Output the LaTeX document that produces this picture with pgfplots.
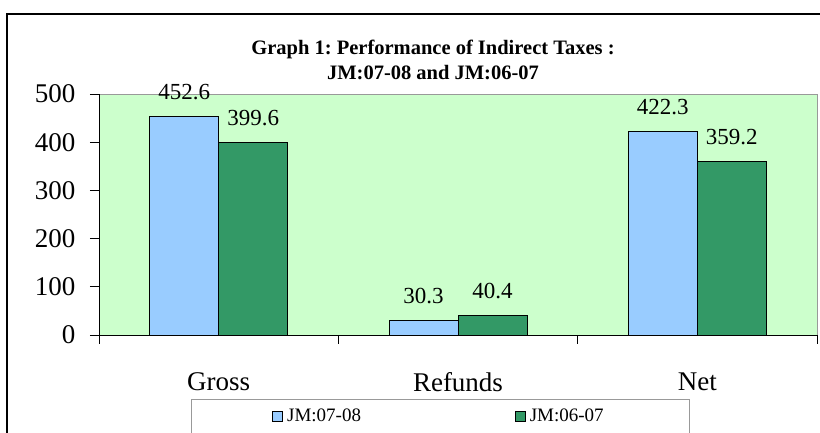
\documentclass[border=0pt]{standalone}
\usepackage{pgfplots}
\pgfplotsset{compat=1.18}
\usepackage{fontspec}
\setmainfont{Liberation Serif}
\definecolor{bblue}{HTML}{99CCFF}
\definecolor{bgreen}{HTML}{339966}
\definecolor{bgplot}{HTML}{CCFFCC}
\begin{document}
\frenchspacing
\begin{tikzpicture}[x=1pt,y=1pt]
\useasboundingbox (0,0) rectangle (820,433);
\fill[white] (0,0) rectangle (820,433);
\draw[black, line width=1.2pt] (7,-20) -- (7,419) -- (840,419);
\draw[gray!80, line width=0.8pt] (191,-20) -- (191,34) -- (689,34) -- (689,-20);
\node[font=\bfseries\fontsize{20.5}{25}\selectfont, align=center] at (433,373) {Graph 1: Performance of Indirect Taxes :\\JM:07-08 and JM:06-07};
\begin{axis}[at={(99pt,98pt)}, anchor=south west, width=718pt, height=241pt, scale only axis,
  xmin=-0.5, xmax=2.5, ymin=0, ymax=500, ytick={0,100,...,500},
  axis x line=bottom, axis y line=left, axis line style={-, black, line width=0.8pt},
  axis background/.style={fill=bgplot, draw=gray!80, line width=0.8pt},
  ybar=0pt, bar width=69pt,
  clip=false,
  tick align=outside, major tick length=9pt, tick style={black, line width=0.8pt},
  /pgf/number format/assume math mode=true,
  tick label style={font=\fontsize{27}{30}\selectfont},
  yticklabel style={xshift=-11pt},
  xtick={-0.5,0.5,1.5,2.5}, xticklabels={},
  extra x ticks={0,1,2}, extra x tick labels={Gross,Refunds,Net},
  extra x tick style={major tick length=0pt, xticklabel style={yshift=-34pt}},
  nodes near coords,
  every node near coord/.append style={font=\fontsize{23}{26}\selectfont, black, yshift=13pt},
  legend style={at={(0.4750,-0.336)}, anchor=center, draw=none, fill=none,
    legend columns=2, font=\fontsize{19}{22}\selectfont,
    /tikz/every even column/.append style={column sep=150pt},
    nodes={inner xsep=4pt}},
]
\addplot[fill=bblue, draw=black, line width=0.9pt,
  legend image code/.code={\draw[fill=bblue, draw=black, line width=0.8pt] (0pt,-5pt) rectangle (10pt,5pt);}]
  coordinates {(0,452.6) (1,30.3) (2,422.3)};
\addlegendentry{JM:07-08}
\addplot[fill=bgreen, draw=black, line width=0.9pt,
  legend image code/.code={\draw[fill=bgreen, draw=black, line width=0.8pt] (0pt,-5pt) rectangle (10pt,5pt);}]
  coordinates {(0,399.6) (1,40.4) (2,359.2)};
\addlegendentry{JM:06-07}
\end{axis}
\end{tikzpicture}
\end{document}
